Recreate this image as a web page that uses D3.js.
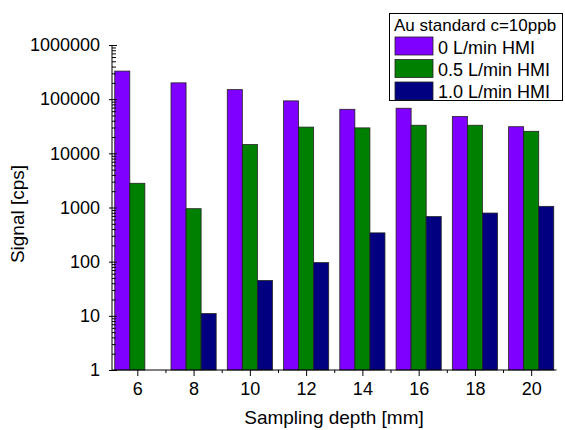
<!DOCTYPE html>
<html>
<head>
<meta charset="utf-8">
<script src="https://cdn.jsdelivr.net/npm/d3@7"></script>
<style>
  body { margin: 0; background: #fff; }
  text { font-family: "Liberation Sans", Arial, sans-serif; fill: #000; }
</style>
</head>
<body>
<div id="chart"></div>
<script>
// the data
let depths = [6, 8, 10, 12, 14, 16, 18, 20];
let series = ['0 L/min HMI', '0.5 L/min HMI', '1.0 L/min HMI'];
let flow0 = [330000, 200000, 150000, 93000, 65000, 68000, 48000, 31000];
let flow05 = [2800, 950, 14500, 30500, 29500, 33000, 33000, 25500];
let flow10 = [null, 11, 45, 96, 340, 680, 790, 1050];
let colors = ['#7f00ff', '#008000', '#000080'];
let yTicks = [1, 10, 100, 1000, 10000, 100000, 1000000];
let legendTitle = 'Au standard c=10ppb';

let values = [flow0, flow05, flow10];

let W = 565, H = 430;
let svg = d3.select("#chart").append("svg")
    .attr("width", W)
    .attr("height", H);

// scales
let x = d3.scaleLinear().domain([5.1, 20.9]).range([112, 556.5]);
let y = d3.scaleLog().domain([1, 1000000]).range([370, 45]);
let barW = 0.535; // bar width in mm units

// bars
values.forEach(function (vals, s) {
    svg.append("g")
        .selectAll("rect")
        .data(depths.map(function (d, i) { return { d: d, v: vals[i] }; }).filter(function (p) { return p.v; }))
        .enter()
        .append("rect")
        .attr("x", function (p) { return x(p.d + (s - 1.5) * barW); })
        .attr("width", x(barW) - x(0))
        .attr("y", function (p) { return y(p.v); })
        .attr("height", function (p) { return y(1) - y(p.v); })
        .attr("fill", colors[s])
        .attr("stroke", "#222")
        .attr("stroke-width", 0.8);
});

// y axis: major ticks cross the line, minor ticks inward
let minor = [];
for (let e = 0; e < 6; e++) {
    for (let m = 2; m < 10; m++) minor.push(m * Math.pow(10, e));
}
svg.append("g")
    .attr("transform", "translate(112,0)")
    .call(d3.axisRight(y).tickValues(minor).tickSize(4).tickFormat(""))
    .call(function (g) { g.select(".domain").remove(); });
let yAxis = svg.append("g")
    .attr("transform", "translate(112,0)")
    .call(d3.axisLeft(y).tickValues(yTicks).tickSize(3).tickPadding(9).tickFormat(d3.format("d")));
yAxis.select(".domain").attr("d", "M0," + y(1) + "V" + y(1000000));
yAxis.selectAll(".tick line").attr("x2", 5).attr("x1", -3);
yAxis.selectAll("text").style("font-size", "18px");

// x axis
svg.append("g")
    .attr("transform", "translate(0,370)")
    .call(d3.axisBottom(x).tickValues([7, 9, 11, 13, 15, 17, 19]).tickSize(3).tickFormat(""))
    .call(function (g) { g.select(".domain").remove(); });
let xAxis = svg.append("g")
    .attr("transform", "translate(0,370)")
    .call(d3.axisBottom(x).tickValues(depths).tickSize(6).tickPadding(6).tickFormat(d3.format("d")));
xAxis.select(".domain").attr("d", "M" + x(5.1) + ",0H" + x(20.9));
xAxis.selectAll("text").style("font-size", "18px");
svg.selectAll(".domain, .tick line").attr("stroke", "#000").attr("stroke-width", 1);

// axis titles
svg.append("text")
    .attr("transform", "translate(24,214) rotate(-90)")
    .attr("text-anchor", "middle")
    .style("font-size", "19px")
    .text("Signal [cps]");
svg.append("text")
    .attr("x", 334)
    .attr("y", 424)
    .attr("text-anchor", "middle")
    .style("font-size", "19px")
    .text("Sampling depth [mm]");

// legend
let lg = svg.append("g");
lg.append("rect")
    .attr("x", 389.5).attr("y", 13.5)
    .attr("width", 173).attr("height", 87)
    .attr("fill", "#fff").attr("stroke", "#000").attr("stroke-width", 1);
lg.append("text")
    .attr("x", 394).attr("y", 31)
    .style("font-size", "17px")
    .text(legendTitle);
series.forEach(function (name, i) {
    lg.append("rect")
        .attr("x", 395).attr("y", 37 + i * 22.5)
        .attr("width", 38).attr("height", 18)
        .attr("fill", colors[i]).attr("stroke", "#222").attr("stroke-width", 0.8);
    lg.append("text")
        .attr("x", 438).attr("y", 54 + i * 22)
        .style("font-size", "18px")
        .text(name);
});
</script>
</body>
</html>
